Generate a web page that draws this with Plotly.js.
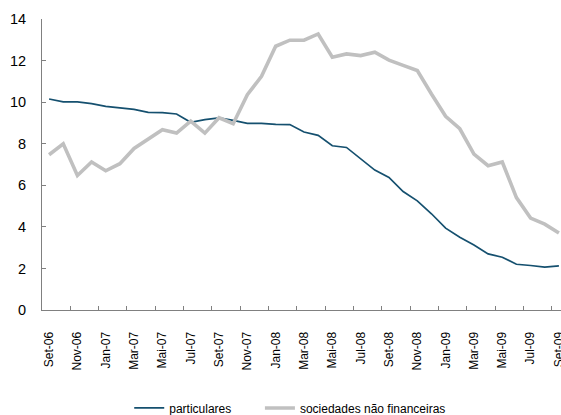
<!DOCTYPE html>
<html>
<head>
<meta charset="utf-8">
<script src="https://cdn.plot.ly/plotly-3.0.1.min.js"></script>
<style>
  html, body { margin: 0; padding: 0; background: #ffffff; overflow: hidden; }
  #chart { width: 570px; height: 415px; }
</style>
</head>
<body>
<div id="chart"></div>
<script>
// Months from Set-06 to Set-09 (Portuguese abbreviations)
const months = [
  "Set-06","Out-06","Nov-06","Dez-06",
  "Jan-07","Fev-07","Mar-07","Abr-07","Mai-07","Jun-07","Jul-07","Ago-07","Set-07","Out-07","Nov-07","Dez-07",
  "Jan-08","Fev-08","Mar-08","Abr-08","Mai-08","Jun-08","Jul-08","Ago-08","Set-08","Out-08","Nov-08","Dez-08",
  "Jan-09","Fev-09","Mar-09","Abr-09","Mai-09","Jun-09","Jul-09","Ago-09","Set-09"
];

const particulares = [
  10.15, 10.01, 10.01, 9.93, 9.80, 9.73, 9.65, 9.51, 9.50, 9.43,
  9.03, 9.16, 9.24, 9.12, 8.98, 8.98, 8.93, 8.92, 8.56, 8.40,
  7.90, 7.82, 7.28, 6.73, 6.38, 5.70, 5.25, 4.63, 3.94, 3.50,
  3.13, 2.70, 2.54, 2.20, 2.14, 2.06, 2.12
];

const sociedades = [
  7.47, 8.00, 6.47, 7.12, 6.70, 7.04, 7.77, 8.24, 8.67, 8.51,
  9.09, 8.51, 9.25, 8.96, 10.36, 11.24, 12.69, 12.98, 12.98, 13.28,
  12.16, 12.32, 12.24, 12.40, 12.02, 11.77, 11.52, 10.39, 9.32, 8.72,
  7.50, 6.94, 7.12, 5.41, 4.42, 4.13, 3.70
];

const yTicks = [0, 2, 4, 6, 8, 10, 12, 14];

const FONT = "Liberation Sans, Arial, sans-serif";

const traces = [
  {
    x: months, y: particulares, type: "scatter", mode: "lines",
    name: "particulares", legend: "legend",
    line: { color: "#15506F", width: 1.7 }
  },
  {
    x: months, y: sociedades, type: "scatter", mode: "lines",
    name: "sociedades não financeiras", legend: "legend2",
    line: { color: "#C0C0C0", width: 3.6 }
  }
];

const legendBase = {
  orientation: "h",
  xref: "container", yref: "container",
  xanchor: "left", yanchor: "middle",
  y: 0.017,
  font: { family: FONT, size: 12, color: "#000000" },
  bgcolor: "rgba(0,0,0,0)"
};

const layout = {
  width: 570, height: 415,
  margin: { l: 42, r: 4, t: 19, b: 105, autoexpand: false },
  paper_bgcolor: "#ffffff", plot_bgcolor: "#ffffff",
  font: { family: FONT, color: "#000000" },
  showlegend: true,
  legend: Object.assign({}, legendBase, { x: 0.2267 }),
  legend2: Object.assign({}, legendBase, { x: 0.456 }),
  xaxis: {
    type: "category",
    categoryorder: "array", categoryarray: months,
    range: [-0.5, 36.5],
    tickmode: "linear", tick0: 0, dtick: 2,
    tickson: "boundaries",
    ticks: "inside", ticklen: 4, tickcolor: "#808080", tickwidth: 1,
    tickangle: -90,
    tickfont: { family: FONT, size: 12, color: "#000000" },
    ticklabelstandoff: 16,
    showline: true, linecolor: "#808080", linewidth: 1,
    showgrid: false, zeroline: false, fixedrange: true, automargin: false
  },
  yaxis: {
    range: [0, 14],
    tickmode: "array", tickvals: yTicks, ticktext: yTicks.map(String),
    ticks: "inside", ticklen: 4, tickcolor: "#808080", tickwidth: 1,
    tickfont: { family: FONT, size: 14.5, color: "#000000" },
    ticklabelstandoff: 12,
    showline: true, linecolor: "#808080", linewidth: 1,
    showgrid: false, zeroline: false, fixedrange: true, automargin: false
  }
};

Plotly.newPlot("chart", traces, layout, { displayModeBar: false, staticPlot: true });
</script>
</body>
</html>
